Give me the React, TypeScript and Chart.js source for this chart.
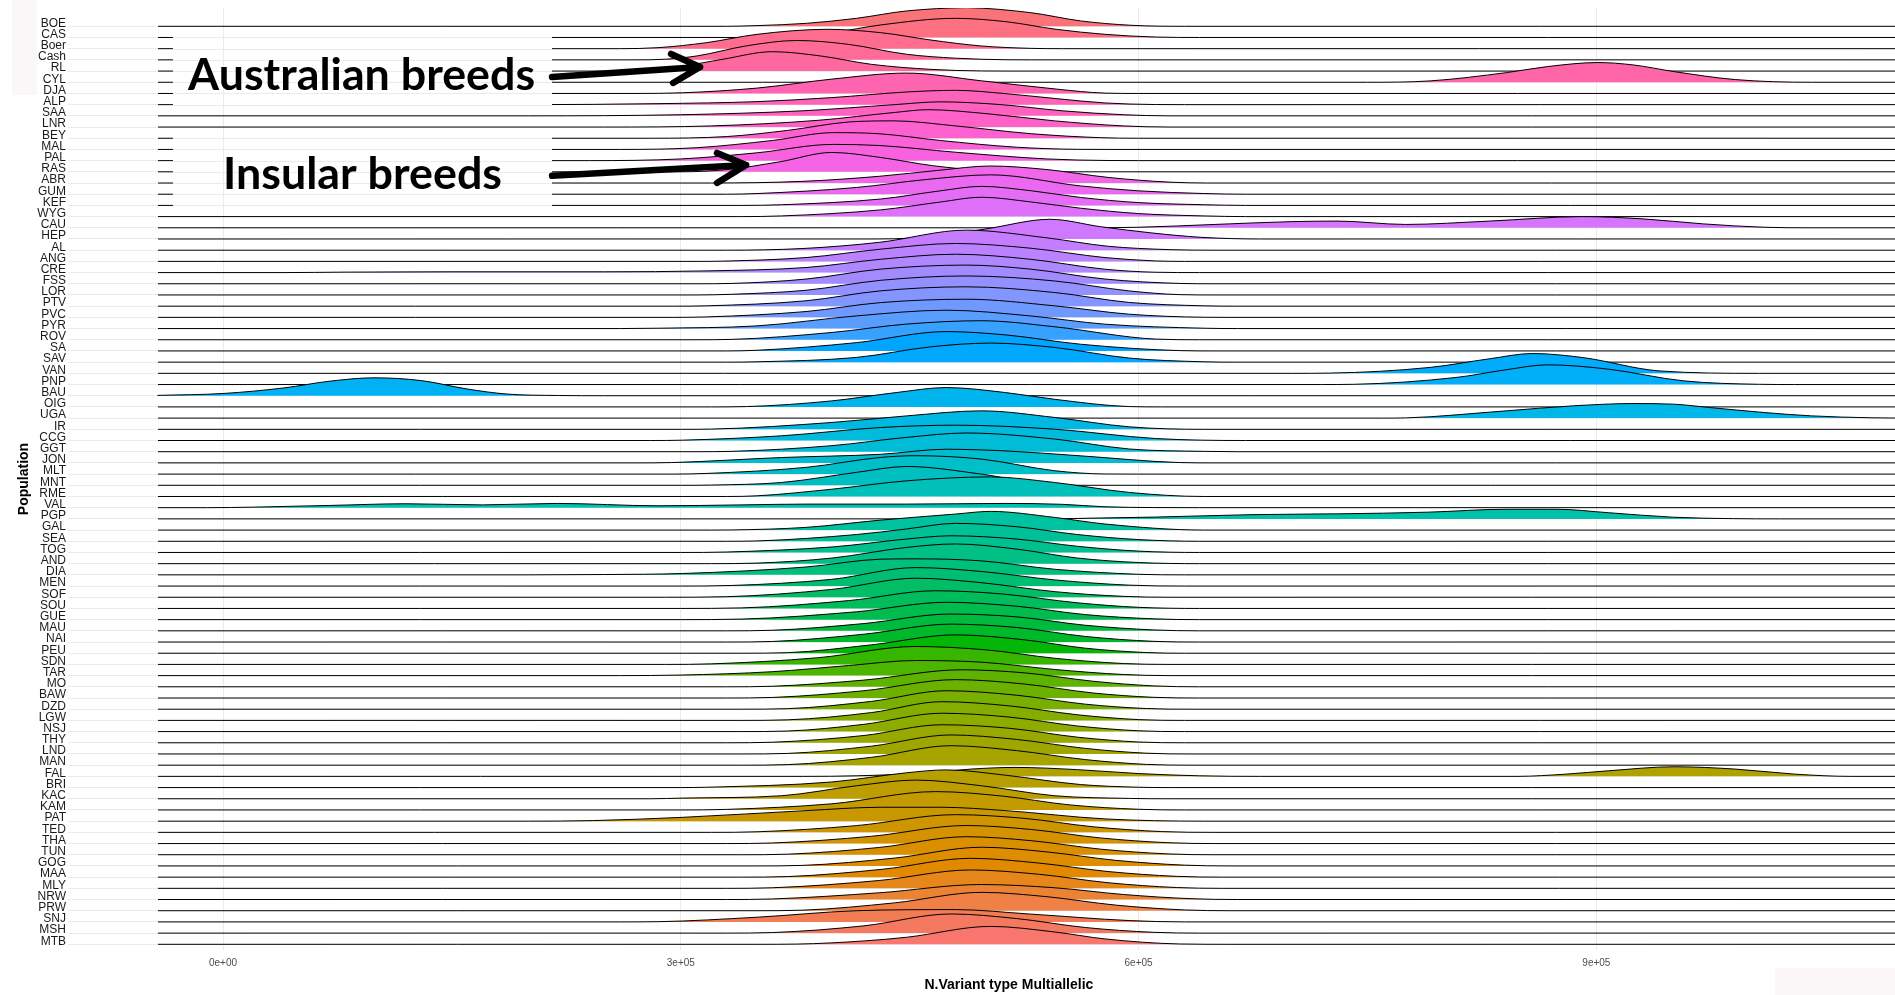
import React, { useEffect, useRef } from "react";
import { Chart, registerables } from "chart.js";
Chart.register(...registerables);

// Populations, top to bottom as shown on the y axis
const POPULATIONS = [
  "BOE", "CAS", "Boer", "Cash", "RL", "CYL", "DJA", "ALP", "SAA", "LNR", "BEY", "MAL", "PAL", "RAS",
  "ABR", "GUM", "KEF", "WYG", "CAU", "HEP", "AL", "ANG", "CRE", "FSS", "LOR", "PTV", "PVC", "PYR",
  "ROV", "SA", "SAV", "VAN", "PNP", "BAU", "OIG", "UGA", "IR", "CCG", "GGT", "JON", "MLT", "MNT",
  "RME", "VAL", "PGP", "GAL", "SEA", "TOG", "AND", "DIA", "MEN", "SOF", "SOU", "GUE", "MAU", "NAI",
  "PEU", "SDN", "TAR", "MO", "BAW", "DZD", "LGW", "NSJ", "THY", "LND", "MAN", "FAL", "BRI", "KAC",
  "KAM", "PAT", "TED", "THA", "TUN", "GOG", "MAA", "MLY", "NRW", "PRW", "SNJ", "MSH", "MTB",
];

const X_TICKS = [0, 300000, 600000, 900000];
const X_TICK_LABELS = ["0e+00", "3e+05", "6e+05", "9e+05"];
const X_TITLE = "N.Variant type Multiallelic";
const Y_TITLE = "Population";

// Density profiles: [N.Variant (thousands), ridge height in row units]
const r_BOE = [[330,0],[350,0.06],[383,0.27],[415,0.71],[448,1.37],[487,1.67],[529,1.22],[562,0.48],[595,0.09],[630,0]];
const r_CAS = [[340,0],[366,0.07],[399,0.43],[431,1.12],[480,1.71],[513,1.41],[546,0.73],[578,0.28],[611,0.04],[640,0]];
const r_Boer = [[260,0],[285,0.09],[317,0.54],[350,1.28],[396,1.73],[431,1.43],[464,0.77],[497,0.24],[529,0.03],[550,0]];
const r_Cash = [[270,0],[290,0.06],[311,0.36],[343,1.25],[376,1.73],[409,1.4],[448,0.5],[480,0.15],[513,0.01],[530,0]];
const r_RL = [[250,0],[268,0.05],[301,0.45],[327,1.04],[360,1.73],[392,1.34],[425,0.6],[464,0.15],[497,0.01],[515,0]];
const r_CYL = [[750,0],[791,0.12],[841,0.86],[868,1.4],[901,1.76],[924,1.55],[951,0.95],[991,0.24],[1041,0]];
const r_DJA = [[270,0],[301,0.06],[350,0.48],[399,1.28],[448,1.82],[497,1.13],[546,0.39],[578,0.03],[600,0]];
const r_ALP = [[200,0],[285,0.09],[350,0.27],[399,0.63],[448,1.13],[480,1.28],[513,0.98],[546,0.54],[578,0.15],[611,0.01],[630,0]];
const r_SAA = [[200,0],[300,0.1],[380,0.45],[440,1.0],[470,1.25],[510,1.0],[550,0.45],[590,0.1],[620,0]];
const r_LNR = [[250,0],[320,0.1],[390,0.6],[440,1.3],[462,1.55],[500,1.2],[545,0.55],[590,0.1],[620,0]];
const r_BEY = [[280,0],[330,0.15],[370,0.7],[410,1.45],[440,1.55],[480,1.1],[530,0.4],[575,0.05],[600,0]];
const r_MAL = [[260,0],[310,0.15],[360,0.8],[400,1.5],[430,1.4],[470,0.8],[520,0.2],[560,0.01],[580,0]];
const r_PAL = [[240,0],[300,0.15],[350,0.7],[400,1.45],[430,1.35],[480,0.75],[540,0.15],[580,0.01],[600,0]];
const r_RAS = [[300,0],[330,0.2],[365,0.9],[399,1.73],[430,1.3],[465,0.55],[500,0.1],[530,0]];
const r_ABR = [[320,0],[380,0.15],[430,0.6],[470,1.15],[503,1.52],[540,1.2],[580,0.5],[620,0.08],[645,0]];
const r_GUM = [[330,0],[350,0.06],[415,0.6],[460,1.3],[503,1.73],[562,0.74],[600,0.3],[643,0.06],[670,0]];
const r_KEF = [[340,0],[366,0.06],[431,0.57],[470,1.3],[497,1.7],[530,1.3],[562,0.71],[600,0.25],[643,0.06],[670,0]];
const r_WYG = [[340,0],[366,0.06],[431,0.6],[470,1.3],[497,1.73],[530,1.3],[562,0.75],[600,0.27],[643,0.06],[670,0]];
const r_CAU = [[560,0],[600,0.05],[650,0.3],[700,0.55],[730,0.6],[775,0.3],[830,0.6],[891,1.0],[930,0.8],[970,0.35],[1010,0.05],[1040,0]];
const r_HEP = [[420,0],[460,0.15],[500,0.9],[542,1.76],[575,1.1],[608,0.55],[641,0.15],[680,0]];
const r_AL = [[330,0],[380,0.15],[430,0.7],[487,1.79],[540,1.1],[580,0.35],[620,0.05],[650,0]];
const r_ANG = [[310,0],[327,0.02],[382,0.34],[431,1.09],[480,1.6],[529,1.18],[578,0.34],[611,0.04],[630,0]];
const r_CRE = [[40,0],[80,0.04],[150,0.07],[250,0.07],[317,0.15],[382,0.45],[431,1.19],[480,1.64],[529,1.19],[578,0.3],[611,0.03],[640,0]];
const r_FSS = [[310,0],[333,0.03],[382,0.42],[431,1.31],[487,1.67],[529,1.31],[578,0.42],[627,0.03],[650,0]];
const r_LOR = [[310,0],[333,0.06],[382,0.42],[431,1.31],[487,1.7],[545,1.25],[594,0.36],[627,0.03],[650,0]];
const r_PTV = [[295,0],[317,0.03],[382,0.48],[431,1.37],[487,1.73],[545,1.22],[594,0.33],[643,0.03],[665,0]];
const r_PVC = [[295,0],[317,0.04],[382,0.52],[431,1.32],[487,1.62],[545,1.03],[594,0.28],[643,0.01],[660,0]];
const r_PYR = [[260,0],[285,0.03],[350,0.24],[415,1.13],[474,1.64],[529,1.13],[578,0.39],[643,0.03],[665,0]];
const r_ROV = [[310,0],[333,0.03],[399,0.65],[448,1.4],[497,1.7],[545,1.16],[611,0.06],[640,0]];
const r_SA = [[330,0],[350,0.06],[415,0.74],[474,1.73],[513,1.43],[562,0.6],[627,0.03],[650,0]];
const r_SAV = [[330,0],[350,0.03],[415,0.42],[464,1.37],[503,1.7],[545,1.31],[594,0.36],[643,0.03],[665,0]];
const r_VAN = [[700,0],[725,0.02],[791,0.53],[830,1.3],[858,1.77],[891,1.41],[941,0.22],[1007,0]];
const r_PNP = [[720,0],[741,0.02],[808,0.63],[840,1.3],[868,1.76],[908,1.37],[957,0.33],[1007,0.02],[1030,0]];
const r_BAU = [[-43,0.03],[0,0.2],[40,0.7],[70,1.3],[99,1.6],[130,1.35],[160,0.6],[186,0.15],[220,0.02],[250,0]];
const r_OIG = [[320,0],[343,0.03],[399,0.54],[441,1.28],[474,1.73],[513,1.28],[545,0.68],[594,0.03],[615,0]];
const r_UGA = [[760,0],[775,0.02],[841,0.65],[885,1.1],[924,1.3],[950,1.25],[974,0.95],[1010,0.5],[1041,0.2],[1080,0.03],[1100,0]];
const r_IR = [[300,0],[320,0.02],[399,0.61],[448,1.2],[497,1.65],[545,1.06],[594,0.22],[643,0]];
const r_CCG = [[280,0],[301,0.03],[366,0.42],[431,1.16],[480,1.37],[545,1.01],[611,0.18],[670,0]];
const r_GGT = [[310,0],[333,0.03],[399,0.54],[448,1.28],[487,1.67],[545,1.13],[594,0.24],[643,0.03],[665,0]];
const r_JON = [[270,0],[294,0.03],[366,0.48],[431,0.77],[474,1.22],[513,1.07],[562,0.63],[627,0.03],[650,0]];
const r_MLT = [[295,0],[317,0.06],[382,0.6],[431,1.49],[454,1.64],[497,1.34],[545,0.3],[578,0.01],[600,0]];
const r_MNT = [[300,0],[320,0.02],[366,0.25],[415,1.15],[448,1.68],[497,1.0],[545,0.02],[565,0]];
const r_RME = [[330,0],[350,0.06],[399,0.65],[448,1.4],[503,1.75],[545,1.25],[594,0.36],[643,0]];
const r_VAL = [[-10,0],[20,0.05],[70,0.2],[120,0.35],[170,0.25],[219,0.38],[285,0.17],[340,0.25],[382,0.32],[448,0.32],[513,0.38],[550,0.3],[578,0.08],[610,0.01],[640,0]];
const r_PGP = [[540,0],[575,0.08],[611,0.16],[675,0.38],[731,0.45],[790,0.6],[841,0.86],[874,0.86],[908,0.55],[950,0.15],[990,0.02],[1020,0]];
const r_GAL = [[320,0],[333,0.01],[382,0.24],[431,0.89],[480,1.43],[503,1.67],[545,1.13],[578,0.54],[643,0]];
const r_SEA = [[330,0],[350,0.03],[415,0.6],[448,1.1],[480,1.6],[520,1.3],[560,0.6],[600,0.15],[640,0]];
const r_TOG = [[300,0],[330,0.04],[400,0.5],[448,1.2],[477,1.49],[520,1.2],[560,0.55],[600,0.12],[640,0]];
const r_AND = [[320,0],[350,0.05],[399,0.5],[448,1.45],[480,1.76],[520,1.3],[560,0.5],[600,0.1],[640,0]];
const r_DIA = [[200,0],[250,0.03],[301,0.12],[382,0.7],[431,1.4],[454,1.43],[497,1.25],[545,0.5],[600,0.05],[630,0]];
const r_MEN = [[300,0],[333,0.05],[399,0.6],[454,1.65],[497,1.3],[545,0.55],[594,0.08],[630,0]];
const r_SOF = [[290,0],[330,0.05],[399,0.7],[454,1.7],[497,1.3],[545,0.5],[590,0.08],[620,0]];
const r_SOU = [[300,0],[340,0.05],[410,0.7],[467,1.58],[510,1.3],[560,0.5],[600,0.1],[640,0]];
const r_GUE = [[300,0],[340,0.05],[415,0.7],[474,1.55],[520,1.2],[565,0.45],[610,0.07],[640,0]];
const r_MAU = [[330,0],[360,0.05],[420,0.65],[477,1.5],[520,1.25],[565,0.5],[610,0.08],[640,0]];
const r_NAI = [[330,0],[360,0.05],[420,0.7],[477,1.6],[520,1.3],[565,0.5],[610,0.06],[640,0]];
const r_PEU = [[340,0],[370,0.05],[425,0.75],[480,1.64],[525,1.2],[565,0.45],[605,0.06],[630,0]];
const r_SDN = [[290,0],[320,0.05],[390,0.6],[454,1.6],[500,1.3],[545,0.55],[590,0.08],[620,0]];
const r_TAR = [[260,0],[300,0.05],[360,0.35],[410,0.9],[454,1.35],[497,1.2],[545,0.55],[590,0.1],[620,0]];
const r_MO = [[330,0],[360,0.05],[420,0.6],[484,1.52],[525,1.25],[570,0.5],[610,0.08],[640,0]];
const r_BAW = [[330,0],[360,0.05],[420,0.65],[480,1.64],[525,1.25],[570,0.45],[610,0.06],[640,0]];
const r_DZD = [[340,0],[370,0.05],[425,0.7],[474,1.65],[520,1.25],[565,0.45],[605,0.06],[635,0]];
const r_LGW = [[340,0],[370,0.05],[425,0.7],[471,1.67],[515,1.3],[560,0.5],[600,0.07],[630,0]];
const r_NSJ = [[340,0],[370,0.05],[420,0.65],[471,1.64],[515,1.3],[560,0.5],[600,0.07],[630,0]];
const r_THY = [[330,0],[360,0.05],[420,0.65],[471,1.61],[515,1.3],[560,0.5],[600,0.07],[630,0]];
const r_LND = [[340,0],[370,0.05],[425,0.7],[477,1.7],[520,1.3],[565,0.5],[605,0.07],[635,0]];
const r_MAN = [[340,0],[370,0.05],[425,0.7],[477,1.74],[520,1.3],[565,0.5],[605,0.07],[635,0]];
const r_FAL = [[380,0],[415,0.05],[460,0.3],[490,0.65],[519,0.8],[560,0.6],[600,0.25],[640,0.05],[680,0],[848,0],[880,0.2],[908,0.5],[951,0.86],[991,0.65],[1030,0.2],[1067,0]];
const r_BRI = [[300,0],[317,0.03],[399,0.5],[448,1.32],[474,1.58],[513,1.1],[562,0.27],[600,0.03],[620,0]];
const r_KAC = [[280,0],[301,0.06],[366,0.27],[415,1.16],[454,1.67],[497,1.16],[545,0.27],[594,0.03],[620,0]];
const r_KAM = [[300,0],[330,0.05],[399,0.55],[467,1.64],[510,1.25],[555,0.45],[600,0.06],[630,0]];
const r_PAT = [[200,0],[242,0.05],[301,0.34],[382,0.94],[431,1.24],[471,1.24],[513,0.94],[578,0.2],[643,0]];
const r_TED = [[320,0],[350,0.05],[415,0.6],[480,1.58],[525,1.25],[570,0.5],[615,0.07],[650,0]];
const r_THA = [[330,0],[360,0.05],[425,0.65],[487,1.61],[530,1.25],[575,0.5],[620,0.07],[650,0]];
const r_TUN = [[340,0],[370,0.05],[430,0.65],[487,1.61],[530,1.25],[575,0.5],[620,0.07],[650,0]];
const r_GOG = [[350,0],[380,0.05],[440,0.7],[497,1.67],[540,1.25],[585,0.5],[630,0.07],[660,0]];
const r_MAA = [[340,0],[370,0.05],[432,0.7],[490,1.68],[535,1.25],[580,0.5],[625,0.07],[655,0]];
const r_MLY = [[330,0],[360,0.05],[430,0.7],[490,1.64],[535,1.25],[580,0.5],[625,0.07],[655,0]];
const r_NRW = [[330,0],[360,0.05],[430,0.6],[497,1.34],[545,1.05],[590,0.45],[635,0.07],[665,0]];
const r_PRW = [[350,0],[380,0.05],[440,0.7],[497,1.64],[540,1.25],[585,0.5],[630,0.07],[660,0]];
const r_SNJ = [[260,0],[285,0.02],[350,0.42],[415,1.0],[480,1.1],[529,0.7],[594,0.12],[630,0]];
const r_MSH = [[330,0],[360,0.05],[420,0.65],[477,1.71],[520,1.3],[565,0.5],[610,0.07],[640,0]];
const r_MTB = [[350,0],[376,0.02],[420,0.3],[448,0.63],[503,1.6],[545,1.1],[578,0.48],[627,0.03],[660,0]];

// same order as POPULATIONS
const RIDGES = [
  r_BOE, r_CAS, r_Boer, r_Cash, r_RL, r_CYL, r_DJA, r_ALP, r_SAA, r_LNR, r_BEY, r_MAL, r_PAL, r_RAS,
  r_ABR, r_GUM, r_KEF, r_WYG, r_CAU, r_HEP, r_AL, r_ANG, r_CRE, r_FSS, r_LOR, r_PTV, r_PVC, r_PYR,
  r_ROV, r_SA, r_SAV, r_VAN, r_PNP, r_BAU, r_OIG, r_UGA, r_IR, r_CCG, r_GGT, r_JON, r_MLT, r_MNT,
  r_RME, r_VAL, r_PGP, r_GAL, r_SEA, r_TOG, r_AND, r_DIA, r_MEN, r_SOF, r_SOU, r_GUE, r_MAU, r_NAI,
  r_PEU, r_SDN, r_TAR, r_MO, r_BAW, r_DZD, r_LGW, r_NSJ, r_THY, r_LND, r_MAN, r_FAL, r_BRI, r_KAC,
  r_KAM, r_PAT, r_TED, r_THA, r_TUN, r_GOG, r_MAA, r_MLY, r_NRW, r_PRW, r_SNJ, r_MSH, r_MTB,
];

// range of the drawn ridge lines (thousands)
const LINE_START = -42.6;
const LINE_END = 1200;

// annotation overlay (x in thousands, y in row levels)
const ANNOT_BOXES = [
  { x0: -32.8, x1: 215.6, yTop: 82.58, yBottom: 75.53 },
  { x0: -32.8, x1: 215.6, yTop: 73.57, yBottom: 66.61 },
];
const ANNOT_TEXTS = [
  { text: "Australian breeds", x: 90.8, y: 77.32, width: 347 },
  { text: "Insular breeds", x: 91.4, y: 68.48, width: 279 },
];
const ANNOT_ARROWS = [
  { from: [215.6, 78.47], tip: [312.6, 79.37], arm1: [293.6, 80.53], arm2: [294.9, 77.94] },
  { from: [215.6, 69.64], tip: [342.8, 70.62], arm1: [323.7, 71.69], arm2: [323.7, 69.01] },
];

const FONT = "'Liberation Sans', Arial, Helvetica, sans-serif";

function hclColor(h: number, c = 100, l = 65): string {
  const hr = (h * Math.PI) / 180;
  const U = c * Math.cos(hr);
  const V = c * Math.sin(hr);
  const Xn = 95.047, Yn = 100, Zn = 108.883;
  const den = Xn + 15 * Yn + 3 * Zn;
  const un = (4 * Xn) / den, vn = (9 * Yn) / den;
  const Y = l > 8 ? Yn * Math.pow((l + 16) / 116, 3) : (Yn * l) / 903.3;
  const u = U / (13 * l) + un;
  const v = V / (13 * l) + vn;
  const X = (9 * Y * u) / (4 * v);
  const Z = -X / 3 - 5 * Y + (3 * Y) / v;
  const x = X / 100, y = Y / 100, z = Z / 100;
  const lin = [
    3.240479 * x - 1.53715 * y - 0.498535 * z,
    -0.969256 * x + 1.875992 * y + 0.041556 * z,
    0.055648 * x - 0.204043 * y + 1.057311 * z,
  ];
  const out = lin.map((t) => {
    const g = t <= 0.0031308 ? 12.92 * t : 1.055 * Math.pow(t, 1 / 2.4) - 0.055;
    return Math.round(Math.min(1, Math.max(0, g)) * 255);
  });
  return `rgb(${out[0]},${out[1]},${out[2]})`;
}

export default function App() {
  const ref = useRef<HTMLCanvasElement>(null);

  useEffect(() => {
    document.body.style.margin = "0";
    const canvas = ref.current;
    if (!canvas) return;
    const n = POPULATIONS.length;

    const datasets: any[] = [];
    for (let t = n - 1; t >= 0; t--) {
      const level = n - t; // bottom row = 1
      const prof = RIDGES[t];
      const pts: { x: number; y: number }[] = [];
      if (prof[0][0] > LINE_START) pts.push({ x: LINE_START * 1000, y: level });
      for (const [px, h] of prof) pts.push({ x: px * 1000, y: level + h });
      if (prof[prof.length - 1][0] < LINE_END) pts.push({ x: LINE_END * 1000, y: level });
      datasets.push({
        label: POPULATIONS[t],
        data: pts,
        borderColor: "#000000",
        borderWidth: 1,
        backgroundColor: hclColor(15 + (360 * (level - 1)) / n),
        fill: { value: level },
        pointRadius: 0,
        cubicInterpolationMode: "monotone",
      });
    }

    const overlay = {
      id: "overlay",
      beforeDraw(chart: any) {
        const ctx = chart.ctx;
        ctx.save();
        ctx.fillStyle = "#fbf6f8";
        ctx.fillRect(12, 0, 25, 95);
        ctx.fillRect(1775, 968, 120, 27);
        ctx.restore();
      },
      afterDatasetsDraw(chart: any) {
        const ctx = chart.ctx;
        const xs = chart.scales.x, ys = chart.scales.y;
        const px = (v: number) => xs.getPixelForValue(v * 1000);
        const py = (v: number) => ys.getPixelForValue(v);
        ctx.save();
        for (const b of ANNOT_BOXES) {
          const L = px(b.x0), R = px(b.x1), T = py(b.yTop), B = py(b.yBottom);
          ctx.fillStyle = "#ffffff";
          ctx.fillRect(L, T, R - L, B - T);
          ctx.strokeStyle = "#ebebeb";
          ctx.lineWidth = 1;
          ctx.beginPath();
          for (let v = 1; v <= n; v++) {
            const yy = Math.round(py(v)) + 0.5;
            if (yy > T && yy < B) {
              ctx.moveTo(L, yy);
              ctx.lineTo(R, yy);
            }
          }
          const x0 = Math.round(px(0)) + 0.5;
          ctx.moveTo(x0, T);
          ctx.lineTo(x0, B);
          ctx.stroke();
        }
        ctx.fillStyle = "#000000";
        ctx.textAlign = "center";
        ctx.textBaseline = "alphabetic";
        ctx.font = "bold 43px Lato, 'Open Sans', sans-serif";
        for (const t of ANNOT_TEXTS) {
          const w = ctx.measureText(t.text).width;
          ctx.save();
          ctx.translate(px(t.x), py(t.y));
          ctx.scale(t.width / w, 1);
          ctx.fillText(t.text, 0, 0);
          ctx.restore();
        }
        ctx.strokeStyle = "#000000";
        ctx.lineWidth = 6.5;
        ctx.lineCap = "round";
        ctx.lineJoin = "round";
        for (const a of ANNOT_ARROWS) {
          ctx.beginPath();
          ctx.moveTo(px(a.from[0]), py(a.from[1]));
          ctx.lineTo(px(a.tip[0]), py(a.tip[1]));
          ctx.moveTo(px(a.arm1[0]), py(a.arm1[1]));
          ctx.lineTo(px(a.tip[0]), py(a.tip[1]));
          ctx.lineTo(px(a.arm2[0]), py(a.arm2[1]));
          ctx.stroke();
        }
        ctx.restore();
      },
      afterDraw(chart: any) {
        const ctx = chart.ctx;
        const xs = chart.scales.x;
        ctx.save();
        ctx.fillStyle = "#000000";
        ctx.font = `bold 14px ${FONT}`;
        ctx.textAlign = "center";
        ctx.textBaseline = "middle";
        ctx.fillText(X_TITLE, xs.getPixelForValue(515000), 985);
        ctx.restore();
      },
    };

    const chart = new Chart(canvas, {
      type: "line",
      data: { datasets },
      plugins: [overlay],
      options: {
        responsive: false,
        animation: false,
        events: [],
        layout: { padding: { top: 7, left: 0, right: 0, bottom: 0 } },
        plugins: {
          legend: { display: false },
          tooltip: { enabled: false },
          filler: { propagate: false },
        },
        scales: {
          x: {
            type: "linear",
            min: -101600,
            max: 1095700,
            afterBuildTicks: (s: any) => {
              s.ticks = X_TICKS.map((v) => ({ value: v }));
            },
            afterFit: (s: any) => {
              s.height = 45;
            },
            ticks: {
              autoSkip: false,
              maxRotation: 0,
              padding: 7,
              color: "#4d4d4d",
              font: { family: FONT, size: 10 },
              callback: (v: any) => {
                const i = X_TICKS.indexOf(Number(v));
                return i >= 0 ? X_TICK_LABELS[i] : "";
              },
            },
            grid: { color: "#ebebeb", drawTicks: false },
            border: { display: false },
          },
          y: {
            type: "linear",
            min: 0.4914,
            max: 84.633,
            afterBuildTicks: (s: any) => {
              s.ticks = POPULATIONS.map((_, i) => ({ value: i + 1 }));
            },
            afterFit: (s: any) => {
              s.width = 68;
            },
            ticks: {
              autoSkip: false,
              padding: 2,
              labelOffset: -3,
              color: "#1a1a1a",
              font: { family: FONT, size: 12, lineHeight: 1 },
              callback: (v: any) => POPULATIONS[POPULATIONS.length - Number(v)] ?? "",
            },
            grid: { color: "#ebebeb", drawTicks: false },
            border: { display: false },
            title: {
              display: true,
              text: Y_TITLE,
              color: "#000000",
              font: { family: FONT, size: 14, weight: "bold" },
              padding: { top: 16, bottom: 0 },
            },
          },
        },
      } as any,
    });

    return () => chart.destroy();
  }, []);

  return (
    <div style={{ width: 1895, height: 995 }}>
      <canvas ref={ref} width={1895} height={995} style={{ display: "block", width: 1895, height: 995 }} />
    </div>
  );
}
